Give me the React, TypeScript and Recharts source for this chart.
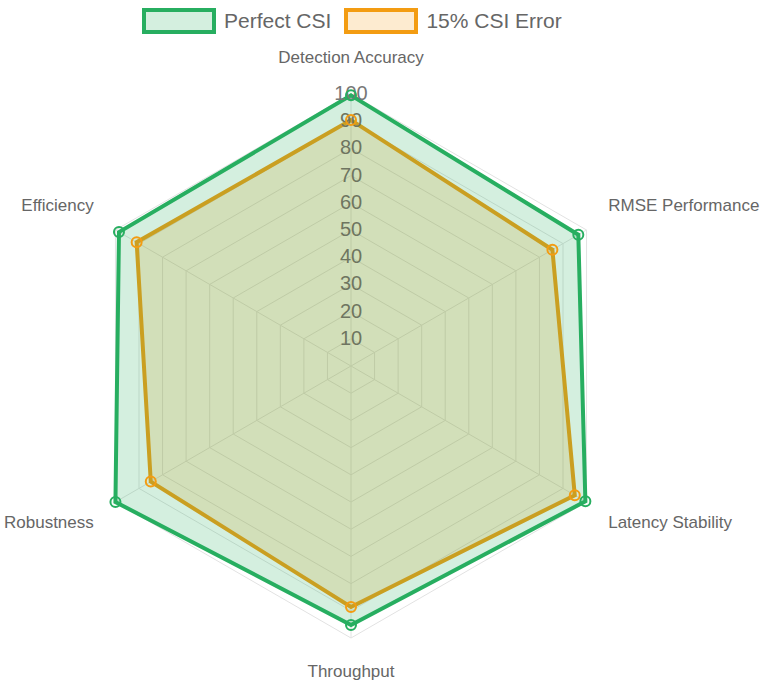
import { RadarChart, Radar, PolarGrid, PolarAngleAxis, PolarRadiusAxis } from 'recharts';

const categories = ['Detection Accuracy', 'RMSE Performance', 'Latency Stability', 'Throughput', 'Robustness', 'Efficiency'];
const perfectCsi = [99.5, 96.5, 99.5, 95.2, 100, 98.5];
const csiError15 = [90.4, 85.5, 95, 88.6, 85, 91];
const radiusTicks = [0, 10, 20, 30, 40, 50, 60, 70, 80, 90, 100];

const data = categories.map((name, i) => ({
  name,
  perfect: perfectCsi[i],
  error: csiError15[i],
}));

const CX = 351;
const CY = 366;
const R = 272;
const FONT = '"Liberation Sans", Arial, sans-serif';

const GREEN = '#27ae60';
const GREEN_FILL = 'rgba(39, 174, 96, 0.2)';
const ORANGE = '#f39c12';
const ORANGE_FILL = 'rgba(243, 156, 18, 0.2)';

const AngleTick = (props: any) => {
  const i = props.index;
  const ang = ((90 - i * 60) * Math.PI) / 180;
  const cos = Math.cos(ang);
  const sin = Math.sin(ang);
  const px = CX + (R + 25) * cos;
  const py = CY - (R + 25) * sin;
  const anchor = cos > 0.1 ? 'start' : cos < -0.1 ? 'end' : 'middle';
  const y = sin > 0.01 ? py - 12 : py + 8;
  return (
    <text x={px} y={y} textAnchor={anchor} dominantBaseline="central" fontSize={17} fill="#666" fontFamily={FONT}>
      {props.payload.value}
    </text>
  );
};

const RadiusTick = (props: any) => {
  const v = props.payload.value;
  if (v === 0) return <g />;
  return (
    <text x={props.x} y={props.y - 1} textAnchor="middle" dominantBaseline="central" fontSize={20} fill={v === 100 ? '#777' : '#6e7560'} fontFamily={FONT}>
      {v}
    </text>
  );
};

const LegendItem = ({ color, fill, label }: { color: string; fill: string; label: string }) => (
  <div style={{ display: 'flex', alignItems: 'center', marginRight: 13 }}>
    <div style={{ width: 66, height: 18, border: `4px solid ${color}`, background: fill, marginRight: 8 }} />
    <span style={{ fontSize: 21, color: '#666', fontFamily: FONT }}>{label}</span>
  </div>
);

export default function App() {
  return (
    <div style={{ position: 'absolute', left: 0, top: 0, width: 766, height: 686, background: '#fff' }}>
      <div style={{ position: 'absolute', left: 142, top: 8, display: 'flex' }}>
        <LegendItem color={GREEN} fill={GREEN_FILL} label="Perfect CSI" />
        <LegendItem color={ORANGE} fill={ORANGE_FILL} label="15% CSI Error" />
      </div>
      <RadarChart width={766} height={686} data={data} cx={CX} cy={CY} outerRadius={R} margin={{ top: 0, right: 0, bottom: 0, left: 0 }}>
        <PolarGrid stroke="#e2e2e2" />
        <PolarAngleAxis dataKey="name" tick={AngleTick} tickLine={false} axisLine={false} />
        <PolarRadiusAxis angle={90} domain={[0, 100]} ticks={radiusTicks as any} tickCount={11} tick={RadiusTick} axisLine={false} tickLine={false} />
        <Radar
          name="15% CSI Error"
          dataKey="error"
          stroke={ORANGE}
          strokeWidth={4}
          fill={ORANGE}
          fillOpacity={0.2}
          dot={{ r: 5, fill: ORANGE_FILL, stroke: ORANGE, strokeWidth: 2 }}
          isAnimationActive={false}
        />
        <Radar
          name="Perfect CSI"
          dataKey="perfect"
          stroke={GREEN}
          strokeWidth={4}
          fill={GREEN}
          fillOpacity={0.2}
          dot={{ r: 5, fill: GREEN_FILL, stroke: GREEN, strokeWidth: 2 }}
          isAnimationActive={false}
        />
      </RadarChart>
    </div>
  );
}
